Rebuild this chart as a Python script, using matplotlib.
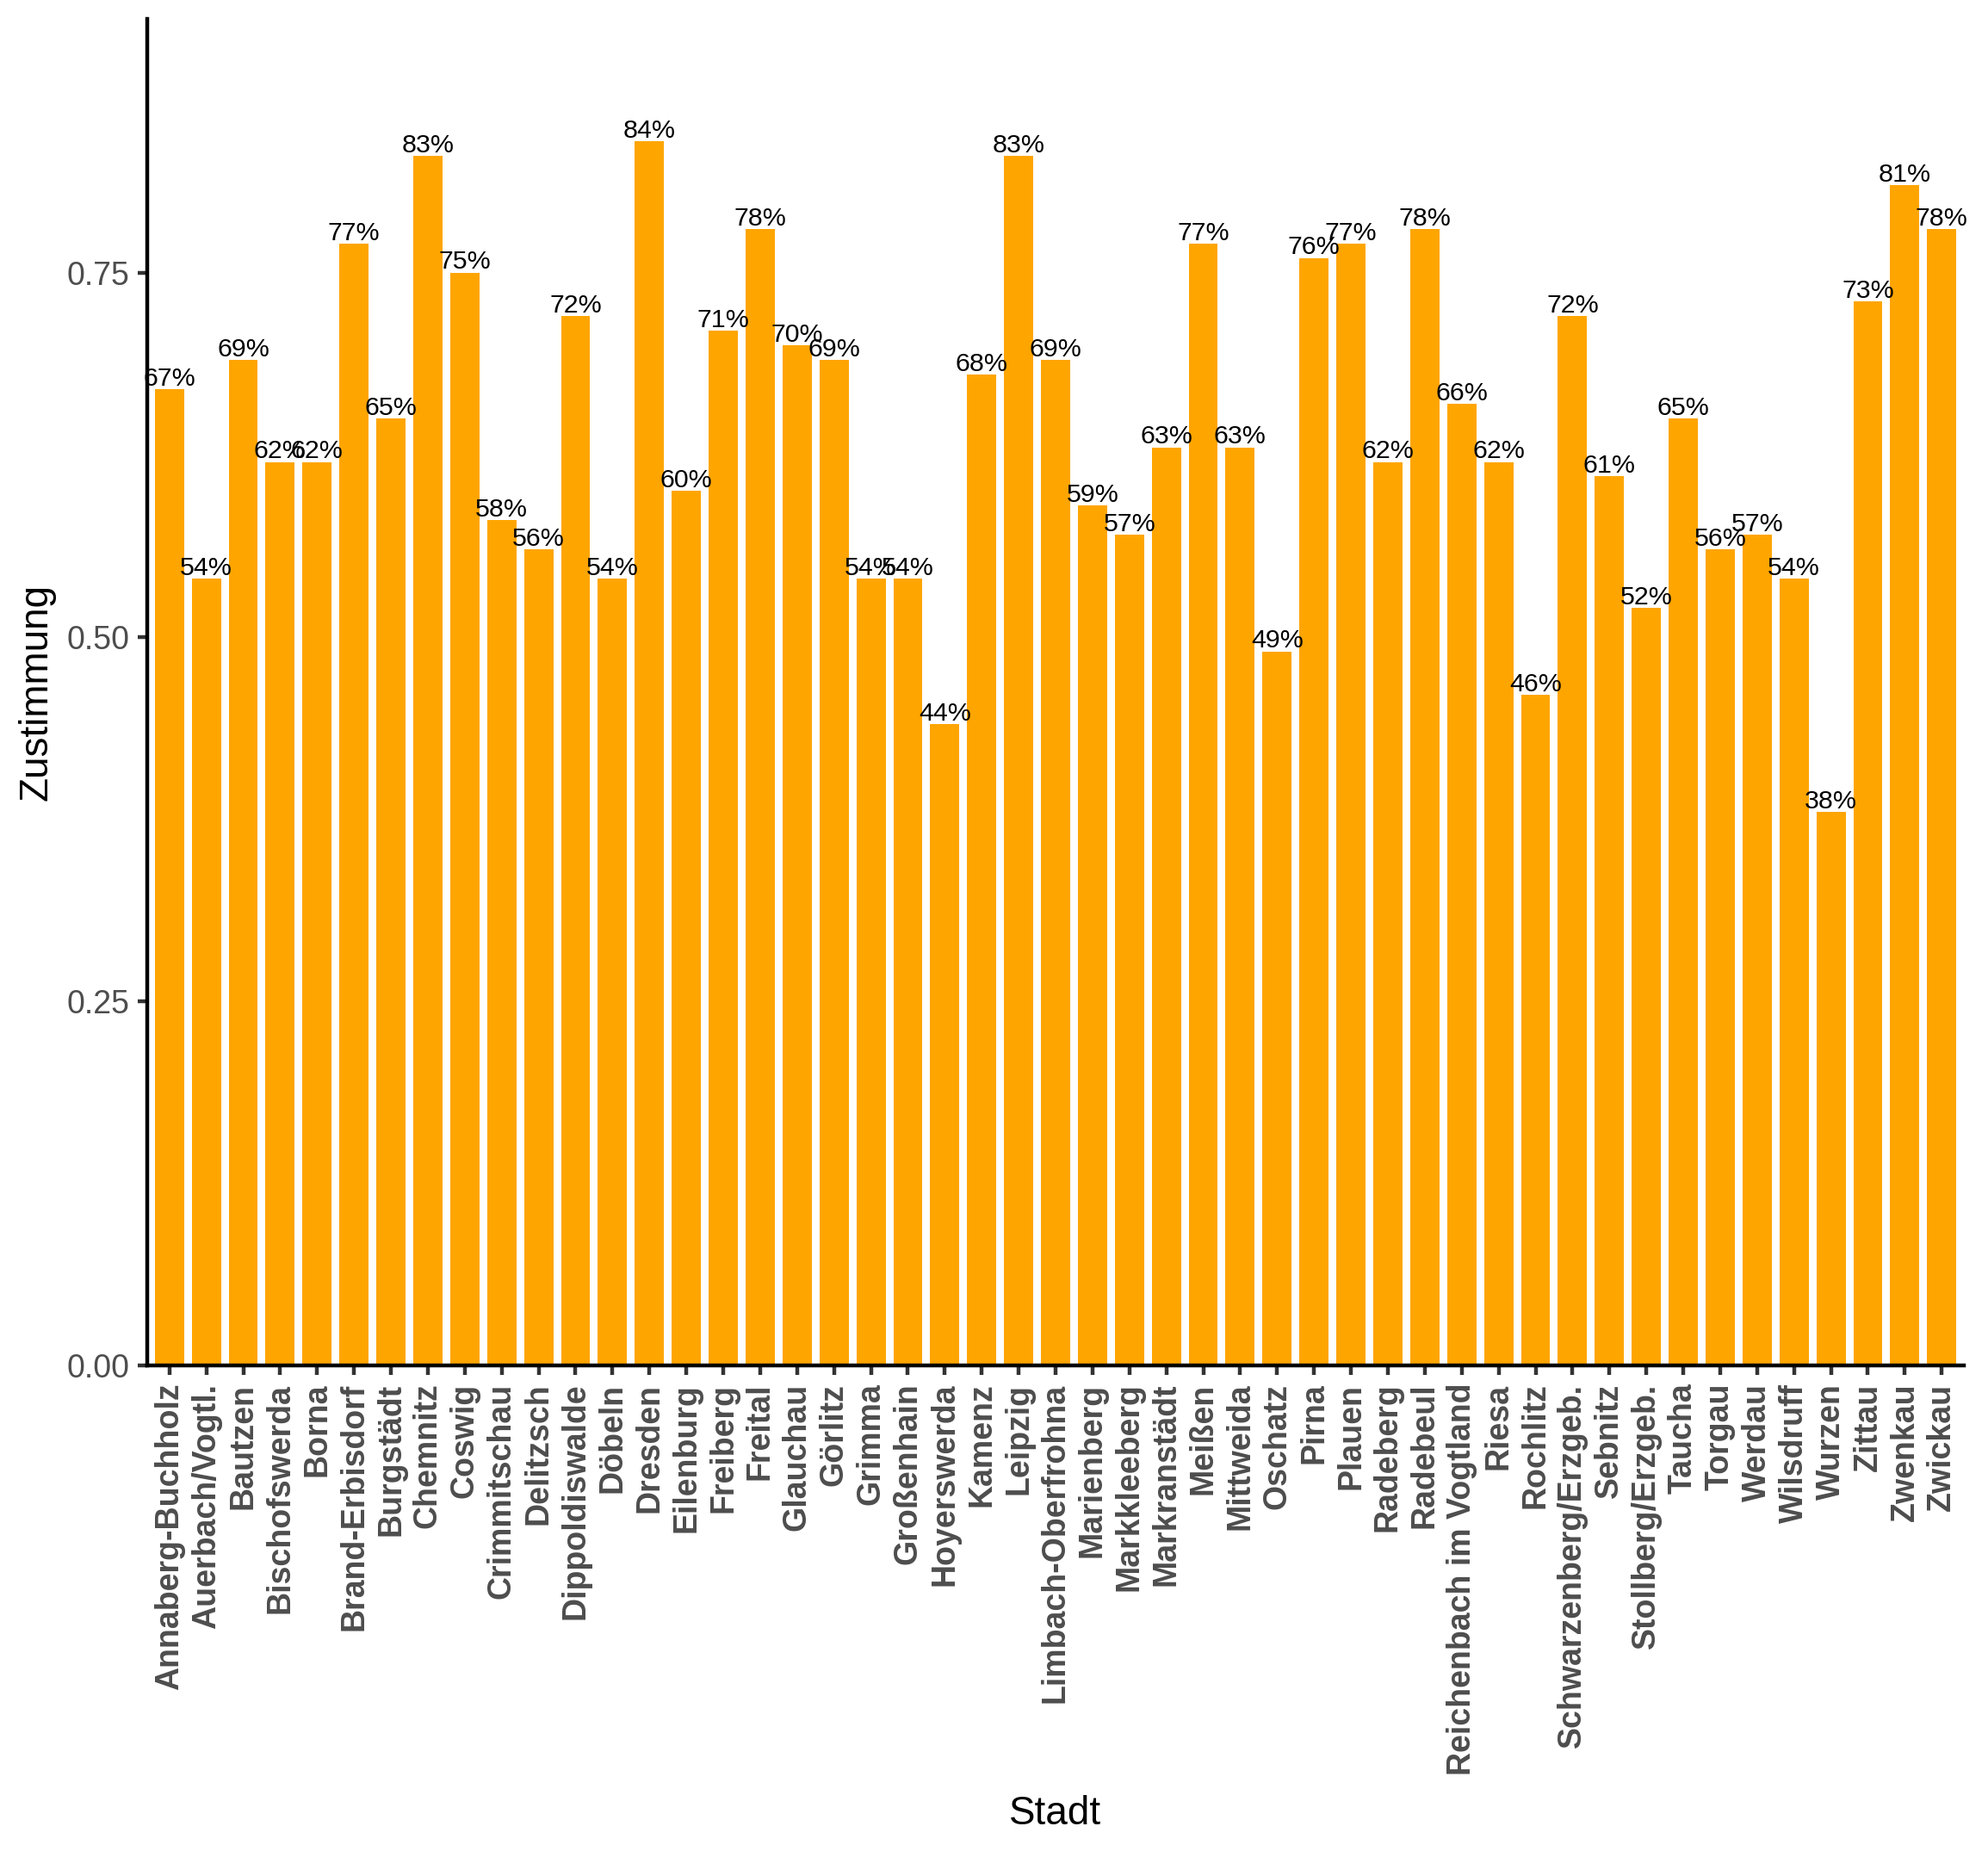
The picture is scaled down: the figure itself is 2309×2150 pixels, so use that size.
import matplotlib.pyplot as plt
import numpy as np

plt.rcParams['font.family'] = ['Liberation Sans', 'DejaVu Sans']

staedte = [
    'Annaberg-Buchholz', 'Auerbach/Vogtl.', 'Bautzen', 'Bischofswerda', 'Borna',
    'Brand-Erbisdorf', 'Burgstädt', 'Chemnitz', 'Coswig', 'Crimmitschau',
    'Delitzsch', 'Dippoldiswalde', 'Döbeln', 'Dresden', 'Eilenburg',
    'Freiberg', 'Freital', 'Glauchau', 'Görlitz', 'Grimma',
    'Großenhain', 'Hoyerswerda', 'Kamenz', 'Leipzig', 'Limbach-Oberfrohna',
    'Marienberg', 'Markkleeberg', 'Markranstädt', 'Meißen', 'Mittweida',
    'Oschatz', 'Pirna', 'Plauen', 'Radeberg', 'Radebeul',
    'Reichenbach im Vogtland', 'Riesa', 'Rochlitz', 'Schwarzenberg/Erzgeb.', 'Sebnitz',
    'Stollberg/Erzgeb.', 'Taucha', 'Torgau', 'Werdau', 'Wilsdruff',
    'Wurzen', 'Zittau', 'Zwenkau', 'Zwickau',
]
zustimmung = [
    0.67, 0.54, 0.69, 0.62, 0.62,
    0.77, 0.65, 0.83, 0.75, 0.58,
    0.56, 0.72, 0.54, 0.84, 0.60,
    0.71, 0.78, 0.70, 0.69, 0.54,
    0.54, 0.44, 0.68, 0.83, 0.69,
    0.59, 0.57, 0.63, 0.77, 0.63,
    0.49, 0.76, 0.77, 0.62, 0.78,
    0.66, 0.62, 0.46, 0.72, 0.61,
    0.52, 0.65, 0.56, 0.57, 0.54,
    0.38, 0.73, 0.81, 0.78,
]
y_ticks = [0.00, 0.25, 0.50, 0.75]

fig = plt.figure(figsize=(2309 / 300, 2150 / 300), dpi=300)
ax = fig.add_axes([171 / 2309, 1 - 1586 / 2150, (2281 - 171) / 2309, (1586 - 22) / 2150])

x = np.arange(len(staedte))
ax.bar(x, zustimmung, width=0.79, color='#FFA500', zorder=2)

# percent labels just above each bar
for xi, v in zip(x, zustimmung):
    ax.annotate(f'{round(v * 100)}%', (xi, v), xytext=(0, 1.0), textcoords='offset points',
                ha='center', va='baseline', fontsize=7.3, color='black', zorder=3)

ax.set_xlim(-0.6, len(staedte) - 0.4)
ax.set_ylim(0, max(zustimmung) * 1.1)

ax.set_yticks(y_ticks)
ax.set_yticklabels([f'{t:.2f}' for t in y_ticks])
ax.set_xticks(x)
ax.set_xticklabels(staedte, rotation=90, ha='center', va='top', fontweight='bold')

for s in ['top', 'right']:
    ax.spines[s].set_visible(False)
for s in ['left', 'bottom']:
    ax.spines[s].set_linewidth(1.07)
    ax.spines[s].set_color('black')
    ax.spines[s].set_zorder(4)

ax.tick_params(axis='both', length=2.75, width=1.07, color='#333333',
               labelcolor='#4D4D4D', labelsize=9, pad=2.2)

ax.set_xlabel('Stadt', fontsize=11, color='black', labelpad=5.5)
ax.set_ylabel('Zustimmung', fontsize=11, color='black', labelpad=3)

plt.savefig('out.png', dpi=300)
